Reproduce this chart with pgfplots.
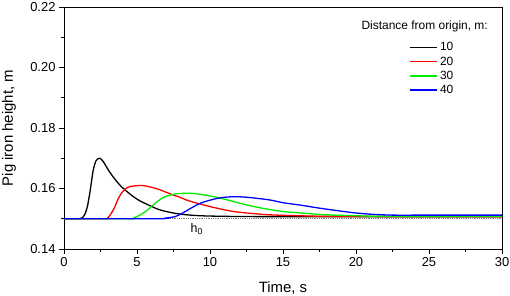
\documentclass[border=0pt]{standalone}
\usepackage{fontspec}
\setmainfont{Liberation Sans}
\usepackage{pgfplots}
\pgfplotsset{compat=1.18}
\usepackage{pgfplotstable}

\pgfplotstableread{
t h
0 0.1500
1.0 0.1500
1.2 0.1502
1.4 0.1512
1.6 0.1540
1.8 0.1595
2.0 0.1660
2.2 0.1692
2.45 0.1700
2.7 0.1688
3.04 0.1661
3.4 0.1636
3.72 0.1617
4.0 0.1603
4.41 0.1586
4.9 0.1568
5.32 0.1556
5.9 0.1543
6.46 0.1531
7.0 0.1524
7.6 0.1518
8.2 0.1514
9.3 0.1510
11 0.1508
14 0.1507
30 0.1507
}\tblA

\pgfplotstableread{
t h
0 0.1500
2.8 0.1500
3.0 0.1503
3.2 0.1515
3.49 0.1540
3.7 0.1565
3.95 0.1585
4.2 0.1598
4.5 0.1606
5.1 0.1610
5.5 0.1609
6.0 0.1604
6.5 0.1597
6.92 0.1589
7.5 0.1578
7.83 0.1573
8.5 0.1560
9.3 0.1549
10.46 0.1535
11.6 0.1524
12.74 0.1518
14.1 0.1513
16 0.1510
18 0.1508
22 0.1507
30 0.1507
}\tblB

\pgfplotstableread{
t h
0 0.1500
4.5 0.1500
4.8 0.1503
5.2 0.1512
5.55 0.1523
5.9 0.1536
6.23 0.1551
6.6 0.1564
6.92 0.1573
7.3 0.1578
7.6 0.1582
8.2 0.1584
8.8 0.1584
9.32 0.1581
10.46 0.1571
11.6 0.1557
12.74 0.1543
13.9 0.1532
15 0.1524
16.2 0.1519
18 0.1513
20 0.1510
22 0.1508
30 0.1508
}\tblC

\pgfplotstableread{
t h
0 0.1500
6.4 0.1500
6.9 0.1502
7.6 0.1507
8.17 0.1520
8.7 0.1535
9.32 0.1551
9.9 0.1560
10.46 0.1567
11.0 0.1571
11.8 0.1573
12.74 0.1570
14.1 0.1562
15.0 0.1553
16.2 0.1545
17.5 0.1535
19 0.1525
20 0.1519
21 0.1515
22.5 0.1512
25 0.1512
30 0.1512
}\tblD

\definecolor{cgreen}{RGB}{0,235,0}
\definecolor{cblue}{RGB}{0,0,255}
\definecolor{cred}{RGB}{255,0,0}

\begin{document}
\begin{tikzpicture}
\begin{axis}[
  name=ax,
  scale only axis,
  width=438bp, height=242bp,
  xmin=0, xmax=30, ymin=0.14, ymax=0.22,
  xtick={0,5,...,30},
  ytick={0.14,0.16,...,0.22},
  minor x tick num=1,
  minor y tick num=1,
  tick align=outside,
  xtick pos=bottom, ytick pos=left,
  major tick length=5bp, minor tick length=3bp,
  axis line style={line width=0.9bp},
  every tick/.style={black, line width=0.7bp},
  scaled y ticks=false,
  /pgf/number format/assume math mode=true,
  yticklabel style={/pgf/number format/fixed, /pgf/number format/precision=2, /pgf/number format/fixed zerofill},
  ticklabel style={font=\fontsize{13}{15}\selectfont},
  xlabel={Time, s},
  ylabel={Pig iron height, m},
  xlabel style={at={(axis description cs:0.5,-0.1595)}, anchor=center, font=\fontsize{15}{17}\selectfont},
  ylabel style={at={(axis description cs:-0.1256,0.5)}, anchor=center, font=\fontsize{15}{17}\selectfont},
  legend style={at={(0.782,0.87)}, anchor=north west, draw=none, fill=none,
    font=\fontsize{12}{14}\selectfont, row sep=0.3bp},
  legend cell align=left,
  legend image code/.code={\draw[mark repeat=2,mark phase=2,line width=1.4bp] plot coordinates {(0bp,0bp) (13.5bp,0bp) (27bp,0bp)};},
]
\addplot[gray, densely dotted, line width=0.8bp, forget plot] coordinates {(0,0.15) (30,0.15)};
\addplot[black, line width=1.3bp, smooth] table[x=t,y=h] {\tblA};
\addlegendentry{10}
\addplot[cred, line width=1.3bp, smooth] table[x=t,y=h] {\tblB};
\addlegendentry{20}
\addplot[cgreen, line width=1.3bp, smooth] table[x=t,y=h] {\tblC};
\addlegendentry{30}
\addplot[cblue, line width=1.3bp, smooth] table[x=t,y=h] {\tblD};
\addlegendentry{40}
\node[anchor=north east, font=\fontsize{12}{14}\selectfont, inner sep=0pt] at (rel axis cs:0.968,0.945) {Distance from origin, m:};
\node[font=\fontsize{12.5}{14}\selectfont] at (axis cs:9.1,0.1465) {h\textsubscript{0}};
\end{axis}
\pgfresetboundingbox
\path[use as bounding box] ([shift={(-64bp,-47bp)}]ax.south west) rectangle ([shift={(8bp,7bp)}]ax.north east);
\end{tikzpicture}
\end{document}
